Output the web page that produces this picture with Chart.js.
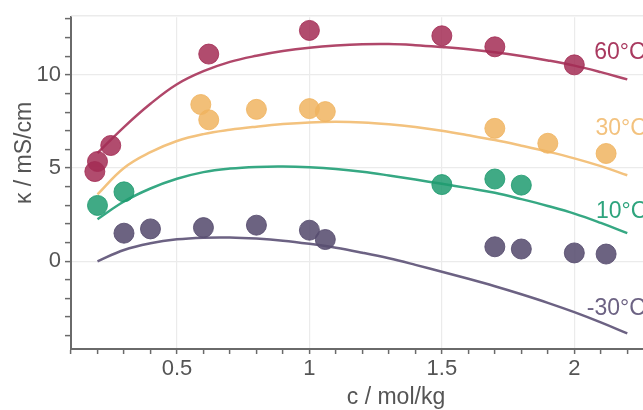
<!DOCTYPE html>
<html lang="en">
<head>
<meta charset="UTF-8">
<title>Conductivity vs concentration</title>
<script src="https://cdn.jsdelivr.net/npm/chart.js"></script>
<style>
    html, body { margin: 0; padding: 0; background: #fff; overflow: hidden; }
    #grafico { display: block; }
</style>
</head>
<body>
<canvas id="grafico" width="740" height="410"></canvas>

<script>
// measured points (c in mol/kg, kappa in mS/cm)
const conc60 = [0.19, 0.2, 0.25, 0.62, 1.0, 1.5, 1.7, 2.0];
const kappa60 = [4.81, 5.35, 6.21, 11.12, 12.39, 12.1, 11.51, 10.54];
const conc30 = [0.59, 0.62, 0.8, 1.0, 1.06, 1.7, 1.9, 2.12];
const kappa30 = [8.41, 7.59, 8.15, 8.19, 8.03, 7.13, 6.33, 5.78];
const conc10 = [0.2, 0.3, 1.5, 1.7, 1.8];
const kappa10 = [2.99, 3.72, 4.11, 4.41, 4.08];
const concM30 = [0.3, 0.4, 0.6, 0.8, 1.0, 1.06, 1.7, 1.8, 2.0, 2.12];
const kappaM30 = [1.5, 1.73, 1.8, 1.93, 1.66, 1.16, 0.77, 0.65, 0.44, 0.38];

// fitted curves, every 0.1 mol/kg
const fitConc = [0.2, 0.3, 0.4, 0.5, 0.6, 0.7, 0.8, 0.9, 1.0, 1.1, 1.2, 1.3, 1.4, 1.5, 1.6, 1.7, 1.8, 1.9, 2.0, 2.1, 2.2];
const fit60 = [5.8, 7.2, 8.45, 9.5, 10.2, 10.7, 11.03, 11.28, 11.46, 11.58, 11.65, 11.66, 11.6, 11.5, 11.38, 11.22, 11.02, 10.78, 10.5, 10.15, 9.76];
const fit30 = [3.58, 5.0, 5.85, 6.45, 6.82, 7.05, 7.22, 7.36, 7.45, 7.48, 7.45, 7.35, 7.2, 7.0, 6.76, 6.5, 6.2, 5.88, 5.52, 5.1, 4.61];
const fit10 = [2.25, 3.2, 3.9, 4.42, 4.78, 4.97, 5.06, 5.08, 5.04, 4.95, 4.8, 4.6, 4.38, 4.15, 3.92, 3.67, 3.33, 2.96, 2.55, 2.05, 1.5];
const fitM30 = [-0.01, 0.6, 0.96, 1.17, 1.26, 1.27, 1.21, 1.1, 0.93, 0.72, 0.45, 0.15, -0.2, -0.57, -0.95, -1.35, -1.78, -2.24, -2.74, -3.29, -3.88];

// temperature labels at the right
const tempLabels = ['60°C', '30°C', '10°C', '-30°C'];
const tempLabelX = [2.075, 2.08, 2.082, 2.047];
const tempLabelY = [11.22, 7.1, 2.63, -2.53];

const corPonto = ['rgba(163,45,85,0.85)', 'rgba(240,180,96,0.85)', 'rgba(30,155,112,0.85)', 'rgba(88,77,112,0.88)'];
const corLinha = ['#b0476a', '#f3c27e', '#36a883', '#6c6283'];
const corTexto = ['#a9395f', '#f3c27e', '#2ea47d', '#6c6283'];

function pares(xs, ys) {
    return xs.map(function (x, i) { return { x: x, y: ys[i] }; });
}

function pontos(xs, ys, i) {
    return {
        type: 'scatter',
        data: pares(xs, ys),
        backgroundColor: corPonto[i],
        borderColor: corPonto[i],
        borderWidth: 1,
        pointRadius: 10,
        order: 0
    };
}

function curva(ys, i) {
    return {
        type: 'line',
        data: pares(fitConc, ys),
        borderColor: corLinha[i],
        borderWidth: 2.5,
        pointRadius: 0,
        fill: false,
        tension: 0.4,
        order: 1
    };
}

const fonte = 'Liberation Sans, Arial, sans-serif';

// axis titles, right-hand temperature labels and top frame line
const extras = {
    id: 'extras',
    afterDraw(chart) {
        const ctx = chart.ctx;
        const area = chart.chartArea;
        const sx = chart.scales.x, sy = chart.scales.y;
        ctx.save();
        ctx.strokeStyle = '#ebebeb';
        ctx.lineWidth = 1.5;
        ctx.beginPath();
        ctx.moveTo(area.left, area.top - 1.5);
        ctx.lineTo(area.right, area.top - 1.5);
        ctx.stroke();

        ctx.font = '23px ' + fonte;
        ctx.textBaseline = 'middle';
        ctx.textAlign = 'left';
        for (let i = 0; i < tempLabels.length; i++) {
            ctx.fillStyle = corTexto[i];
            ctx.fillText(tempLabels[i], sx.getPixelForValue(tempLabelX[i]), sy.getPixelForValue(tempLabelY[i]));
        }

        ctx.fillStyle = '#555';
        ctx.textAlign = 'center';
        ctx.fillText('c / mol/kg', 396, 398);
        ctx.translate(25, 153);
        ctx.rotate(-Math.PI / 2);
        ctx.fillText('κ / mS/cm', 0, 0);
        ctx.restore();
    }
};

const config = {
    data: {
        datasets: [
            pontos(conc60, kappa60, 0),
            pontos(conc30, kappa30, 1),
            pontos(conc10, kappa10, 2),
            pontos(concM30, kappaM30, 3),
            curva(fit60, 0),
            curva(fit30, 1),
            curva(fit10, 2),
            curva(fitM30, 3)
        ]
    },
    options: {
        responsive: false,
        animation: false,
        layout: { padding: { top: 14, right: 20, left: 0, bottom: 0 } },
        plugins: {
            legend: { display: false },
            tooltip: { enabled: false }
        },
        scales: {
            x: {
                type: 'linear',
                min: 0.1,
                max: 2.55,
                afterFit: function (scale) { scale.height = 61; },
                border: { display: true, color: '#6a6a6a', width: 2 },
                grid: {
                    color: function (c) {
                        return Math.round(c.tick.value * 10) % 5 === 0 ? '#ebebeb' : 'rgba(0,0,0,0)';
                    },
                    lineWidth: 1.2,
                    tickColor: '#6a6a6a',
                    tickLength: 5,
                    tickWidth: 1.5
                },
                ticks: {
                    stepSize: 0.1,
                    includeBounds: false,
                    autoSkip: false,
                    maxRotation: 0,
                    padding: 2,
                    color: '#555',
                    font: { family: fonte, size: 22 },
                    callback: function (v) {
                        const t = Math.round(v * 10);
                        return (t % 5 === 0 && t <= 22) ? String(t / 10) : '';
                    }
                }
            },
            y: {
                type: 'linear',
                min: -4.72,
                max: 13.1,
                afterFit: function (scale) { scale.width = 71; },
                border: { display: true, color: '#6a6a6a', width: 2 },
                grid: {
                    color: function (c) {
                        return c.tick.value % 5 === 0 ? '#ebebeb' : 'rgba(0,0,0,0)';
                    },
                    lineWidth: 1.2,
                    tickColor: '#6a6a6a',
                    tickLength: 6,
                    tickWidth: 1.5
                },
                ticks: {
                    stepSize: 1,
                    includeBounds: false,
                    autoSkip: false,
                    padding: 4,
                    color: '#555',
                    font: { family: fonte, size: 22 },
                    callback: function (v) { return v % 5 === 0 ? String(v) : ''; }
                }
            }
        }
    },
    plugins: [extras]
};

new Chart(document.getElementById('grafico'), config);
</script>
</body>
</html>
